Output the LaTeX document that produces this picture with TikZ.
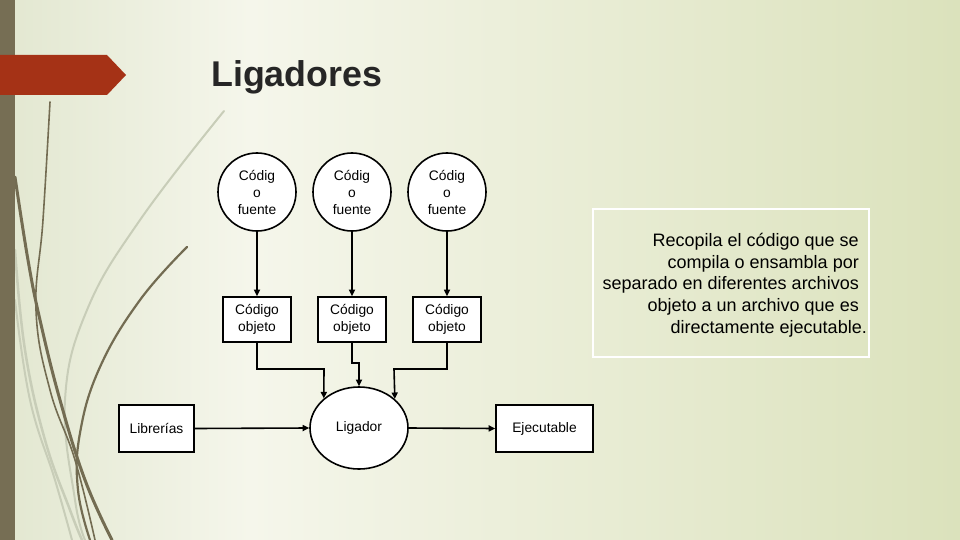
\documentclass[tikz,border=0pt]{standalone}
\usepackage{fontspec}
\setmainfont{Liberation Sans}
\usetikzlibrary{arrows.meta,shapes.geometric}
\definecolor{barcol}{RGB}{118,110,84}
\definecolor{redban}{RGB}{165,50,22}
\definecolor{bgA}{RGB}{226,231,208}
\definecolor{bgB}{RGB}{245,246,235}
\definecolor{bgC}{RGB}{219,226,188}
\definecolor{strand}{RGB}{115,108,82}
\definecolor{strandlt}{RGB}{200,205,184}
\definecolor{titlecol}{RGB}{38,38,38}
\begin{document}
\begin{tikzpicture}[x=1pt,y=-1pt,
  smalltxt/.style={font=\fontsize{13.8}{17}\selectfont},
  srccirc/.style={circle,draw,fill=white,line width=1.6pt,minimum size=78pt,inner sep=0pt,align=center,smalltxt},
  objbox/.style={rectangle,draw,fill=white,line width=1.6pt,minimum width=68pt,minimum height=45pt,inner sep=0pt,align=center,smalltxt},
  sidebox/.style={rectangle,draw,fill=white,line width=1.6pt,minimum height=47pt,inner sep=0pt,align=center,smalltxt},
  conn/.style={draw,line width=1.6pt,-{Triangle[length=6.5pt,width=6pt]}},
  dstrand/.style={draw=strand,line cap=round},
  lstrand/.style={draw=strandlt,line cap=round}]
\useasboundingbox (0,0) rectangle (960,540);
% background
\shade[left color=bgA,right color=bgB] (0,0) rectangle (250,540);
\shade[left color=bgB,right color=bgC] (250,0) rectangle (960,540);
% decorative strands
\draw[lstrand,line width=2pt] plot[smooth,tension=0.7] coordinates {(224,111) (140,220) (87,310) (65,400) (75,500) (85,540)};
\draw[lstrand,line width=2.5pt] plot[smooth,tension=0.7] coordinates {(15,250) (25,350) (45,440) (70,510) (82,540)};
\draw[lstrand,line width=2pt] plot[smooth,tension=0.7] coordinates {(15,300) (30,400) (55,480) (72,540)};
\draw[dstrand,line width=1.6pt] plot[smooth,tension=0.7] coordinates {(50,102) (43,220) (36,310) (50,390) (75,460) (95,540)};
\draw[dstrand,line width=3pt] plot[smooth,tension=0.7] coordinates {(15,177) (28,260) (40,320) (60,400) (85,480) (112,540)};
\draw[dstrand,line width=2.2pt] plot[smooth,tension=0.7] coordinates {(187,247) (140,300) (100,367) (80,433) (78,490) (90,540)};
% left bar and banner
\fill[barcol] (0,0) rectangle (15,540);
\fill[redban] (0,55) -- (107,55) -- (126,75) -- (107,95) -- (0,95) -- cycle;
% title
\node[anchor=base west,inner sep=0pt,text=titlecol,font=\fontsize{35.8}{40}\selectfont\bfseries] (title) at (211,87) {Ligadores};
% source circles
\node[srccirc] (f1) at (257,192) {Códig\\o\\fuente};
\node[srccirc] (f2) at (352,192) {Códig\\o\\fuente};
\node[srccirc] (f3) at (447,192) {Códig\\o\\fuente};
% object boxes
\node[objbox] (o1) at (257,319.5) {Código\\objeto};
\node[objbox] (o2) at (352,319.5) {Código\\objeto};
\node[objbox] (o3) at (447,319.5) {Código\\objeto};
% linker
\node[ellipse,draw,fill=white,line width=1.6pt,minimum width=98pt,minimum height=82pt,inner sep=0pt,smalltxt] (lig) at (359,428) {Ligador};
\node[sidebox,minimum width=75pt] (lib) at (156.5,428.5) {Librerías};
\node[sidebox,minimum width=97pt] (ejec) at (544.5,428.5) {Ejecutable};
% connectors
\draw[conn] (f1) -- (o1);
\draw[conn] (f2) -- (o2);
\draw[conn] (f3) -- (o3);
\coordinate (j1) at (324,369);
\coordinate (j2) at (359,363);
\coordinate (j3) at (394,369);
\draw[conn] (o1.south) |- (j1) -- (lig.140.5);
\draw[conn] (o2.south) |- (j2) -- (lig.north);
\draw[conn] (o3.south) |- (j3) -- (lig.39.5);
\draw[conn] (lib.east) -- (lig.west);
\draw[conn] (lig.east) -- (ejec.west);
% description
\node[draw=white,line width=1.5pt,minimum width=276pt,minimum height=148pt,inner sep=0pt] (descbox) at (731,283) {};
\node[anchor=east,align=right,inner sep=0pt,font=\fontsize{18}{21.7}\selectfont] (desc) at (867,285) {Recopila el código que se\rule{8pt}{0pt}\\compila o ensambla por\rule{8pt}{0pt}\\separado en diferentes archivos\rule{8pt}{0pt}\\objeto a un archivo que es\rule{8pt}{0pt}\\directamente ejecutable.};
\end{tikzpicture}
\end{document}
